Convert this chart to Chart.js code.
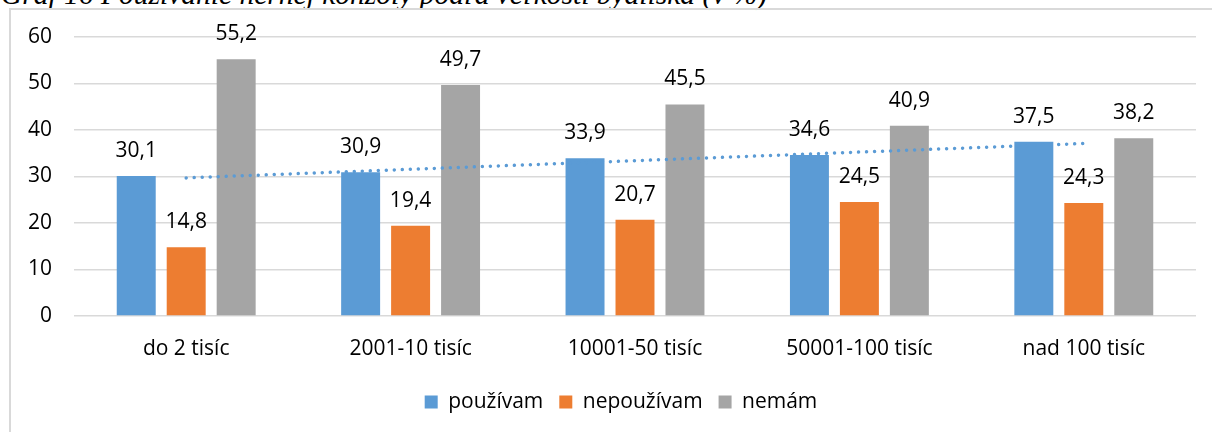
<!DOCTYPE html>
<html>
<head>
<meta charset="utf-8">
<script src="https://cdn.jsdelivr.net/npm/chart.js@4"></script>
<style>
  html, body { margin:0; padding:0; background:#fff; width:1212px; height:432px; overflow:hidden; }
  #title { position:absolute; left:1px; top:-20px; font-family:"Liberation Serif", serif; font-style:italic; font-size:29.5px; line-height:29px; color:#000; white-space:nowrap; }
  #frame { position:absolute; left:9px; top:8px; width:1300px; height:500px; border-left:2px solid #d9d9d9; border-top:2px solid #d9d9d9; }
  #wrap { position:absolute; left:0; top:0; width:1212px; height:432px; }
</style>
</head>
<body>
<div id="title">Graf 16 Používanie hernej konzoly podľa veľkosti bydliska (v %)</div>
<div id="frame"></div>
<div id="wrap"><canvas id="c" width="1212" height="432"></canvas></div>
<script>
const categories = ["do 2 tisíc", "2001-10 tisíc", "10001-50 tisíc", "50001-100 tisíc", "nad 100 tisíc"];
const pouzivam = [30.1, 30.9, 33.9, 34.6, 37.5];
const nepouzivam = [14.8, 19.4, 20.7, 24.5, 24.3];
const nemam = [55.2, 49.7, 45.5, 40.9, 38.2];
const trend = [29.7, null, null, null, 37.1];
const seriesNames = ["používam", "nepoužívam", "nemám"];
const yTicks = [0, 10, 20, 30, 40, 50, 60];

const FONT = "'Open Sans', sans-serif";
const FS = 21;

const labelPlugin = {
  id: 'barLabels',
  afterLayout(chart) {
    if (chart.legend) { chart.legend.left += 46; }
  },
  afterDatasetsDraw(chart) {
    const ctx = chart.ctx;
    ctx.save();
    ctx.font = FS + "px " + FONT;
    ctx.fillStyle = "#000";
    ctx.textAlign = "center";
    ctx.textBaseline = "alphabetic";
    chart.data.datasets.forEach((ds, i) => {
      if (ds.type === 'line') return;
      const meta = chart.getDatasetMeta(i);
      meta.data.forEach((bar, j) => {
        const v = ds.data[j];
        ctx.fillText(String(v).replace('.', ','), bar.x, bar.y - 19);
      });
    });
    ctx.restore();
  }
};

new Chart(document.getElementById('c'), {
  type: 'bar',
  data: {
    labels: categories,
    datasets: [
      { label: seriesNames[0], data: pouzivam, backgroundColor: '#5B9BD5', order: 1, categoryPercentage: 0.668, barPercentage: 0.78 },
      { label: seriesNames[1], data: nepouzivam, backgroundColor: '#ED7D31', order: 1, categoryPercentage: 0.668, barPercentage: 0.78 },
      { label: seriesNames[2], data: nemam, backgroundColor: '#A5A5A5', order: 1, categoryPercentage: 0.668, barPercentage: 0.78 },
      { type: 'line', label: 'trend', data: trend, spanGaps: true, borderColor: '#5B9BD5', borderWidth: 3.5, borderDash: [0.01, 8], borderCapStyle: 'round', pointRadius: 0, fill: false, order: 0 }
    ]
  },
  options: {
    responsive: false,
    animation: false,
    devicePixelRatio: 1,
    layout: { padding: { left: 0, right: 16, top: 37, bottom: 9.5 } },
    plugins: {
      tooltip: { enabled: false },
      legend: {
        position: 'bottom',
        labels: {
          filter: (item) => item.text !== 'trend',
          font: { family: FONT, size: FS },
          color: '#000',
          boxWidth: 13, boxHeight: 13, padding: 16
        }
      }
    },
    scales: {
      x: {
        grid: { display: false, drawTicks: false },
        border: { display: false },
        ticks: { font: { family: FONT, size: FS }, color: '#000', padding: 20 },
        afterFit: (s) => { s.height = 59.5; }
      },
      y: {
        min: 0, max: 60,
        afterBuildTicks: (s) => { s.ticks = yTicks.map(v => ({ value: v })); },
        grid: { color: '#d9d9d9', lineWidth: 1.5, drawTicks: false },
        border: { display: false },
        ticks: { font: { family: FONT, size: FS }, color: '#000', padding: 22 },
        afterFit: (s) => { s.width = 74; }
      }
    }
  },
  plugins: [labelPlugin]
});
</script>
</body>
</html>
